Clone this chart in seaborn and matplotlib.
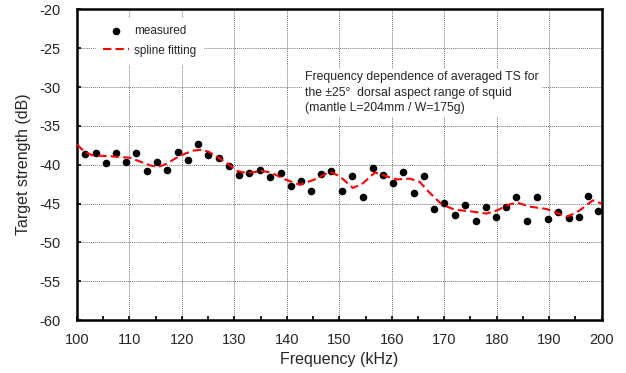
import numpy as np
import pandas as pd
import matplotlib
matplotlib.use("Agg")
import matplotlib.pyplot as plt
import seaborn as sns
from matplotlib.ticker import MultipleLocator

# measured points (kHz, dB)
freq = [101.5, 103.6, 105.5, 107.4, 109.3, 111.3, 113.3, 115.2, 117.1, 119.2,
        121.1, 123.1, 125.0, 127.0, 129.0, 130.9, 132.8, 134.8, 136.8, 138.8,
        140.7, 142.7, 144.6, 146.5, 148.5, 150.5, 152.4, 154.5, 156.4, 158.3,
        160.3, 162.2, 164.2, 166.2, 168.1, 170.0, 172.1, 174.0, 176.0, 177.9,
        179.9, 181.8, 183.7, 185.7, 187.6, 189.7, 191.7, 193.7, 195.6, 197.5,
        199.4]
ts = [-38.6, -38.5, -39.8, -38.5, -39.6, -38.5, -40.8, -39.7, -40.7, -38.4,
      -39.4, -37.4, -38.8, -39.1, -40.2, -41.3, -41.1, -40.7, -41.6, -41.1,
      -42.8, -42.1, -43.4, -41.2, -40.8, -43.4, -41.4, -44.2, -40.4, -41.3,
      -42.4, -40.9, -43.6, -41.4, -45.7, -44.9, -46.5, -45.2, -47.2, -45.5,
      -46.7, -45.5, -44.2, -47.2, -44.2, -47.0, -46.1, -46.8, -46.7, -44.0,
      -46.0]

# spline curve
sp_freq = [100, 101.5, 103, 106, 110, 112, 114, 115.5, 117, 119.5, 122, 123.5,
           125, 127, 129, 130.5, 132.5, 135, 137, 139.3, 142.5, 145.7, 148.2,
           150.1, 152.6, 154.5, 156.8, 159, 161, 163.4, 165.3, 167.2, 169.5,
           172, 175, 178, 180, 182.5, 184, 186.3, 189.5, 192.6, 193.5, 195.8,
           198.3, 200]
sp_ts = [-37.4, -38.4, -38.8, -38.9, -39.1, -39.6, -40.1, -40.3, -39.9, -38.9,
         -38.2, -38.1, -38.3, -39.1, -40.0, -40.8, -41.1, -40.8, -41.0, -41.8,
         -42.6, -41.8, -40.9, -41.5, -43.0, -42.4, -41.0, -41.5, -41.9, -41.8,
         -42.2, -43.6, -45.1, -45.8, -46.0, -46.3, -45.9, -45.1, -44.9, -45.4,
         -45.7, -46.5, -46.7, -45.9, -44.6, -45.0]

df = pd.DataFrame({"freq": freq, "ts": ts})
sp = pd.DataFrame({"freq": sp_freq, "ts": sp_ts})

sns.set_style("white")
plt.rcParams["font.family"] = ["Liberation Sans", "DejaVu Sans"]
plt.rcParams["axes.unicode_minus"] = False

fig = plt.figure(figsize=(6.26, 3.73), dpi=100)
ax = fig.add_axes([0.123, 0.142, 0.838, 0.833])

sns.scatterplot(data=df, x="freq", y="ts", ax=ax, color="black", s=30,
                edgecolor="black", linewidth=0, label="measured", zorder=3)
sns.lineplot(data=sp, x="freq", y="ts", ax=ax, color="#ff0000", lw=1.5,
             dashes=False, label="spline fitting", zorder=4)
ax.lines[-1].set_dashes([4, 2])

ax.set_xlim(100, 200)
ax.set_ylim(-60, -20)
ax.xaxis.set_major_locator(MultipleLocator(10))
ax.xaxis.set_minor_locator(MultipleLocator(5))
ax.yaxis.set_major_locator(MultipleLocator(5))
ax.grid(True, which="major", color="#777777", linestyle=(0, (1, 1)), lw=0.7)
ax.tick_params(axis="both", which="both", direction="in", labelsize=10.5,
               color="black", left=True, bottom=True)
ax.tick_params(which="major", length=3, width=1.2)
ax.tick_params(which="minor", length=3, width=1.2)
ax.tick_params(axis="x", pad=9)
ax.tick_params(axis="y", pad=12)
for s in ax.spines.values():
    s.set_color("black")
    s.set_linewidth(1.8)

ax.set_xlabel("Frequency (kHz)", fontsize=11.5)
ax.set_ylabel("Target strength (dB)", fontsize=11.5, labelpad=6)

leg = ax.legend(loc="upper left", bbox_to_anchor=(0.025, 0.99), frameon=True,
                fontsize=8.5, handlelength=2.2, borderpad=0.6,
                labelspacing=0.6, handletextpad=0.4)
leg.get_frame().set_edgecolor("white")
leg.get_frame().set_alpha(1)

ax.text(0.435, 0.80,
        "Frequency dependence of averaged TS for\n"
        "the \u00b125\u00b0  dorsal aspect range of squid\n"
        "(mantle L=204mm / W=175g)",
        transform=ax.transAxes, fontsize=8.8, va="top", ha="left",
        linespacing=1.35,
        bbox=dict(facecolor="white", edgecolor="none", pad=2))

fig.savefig("out.png", dpi=100)
